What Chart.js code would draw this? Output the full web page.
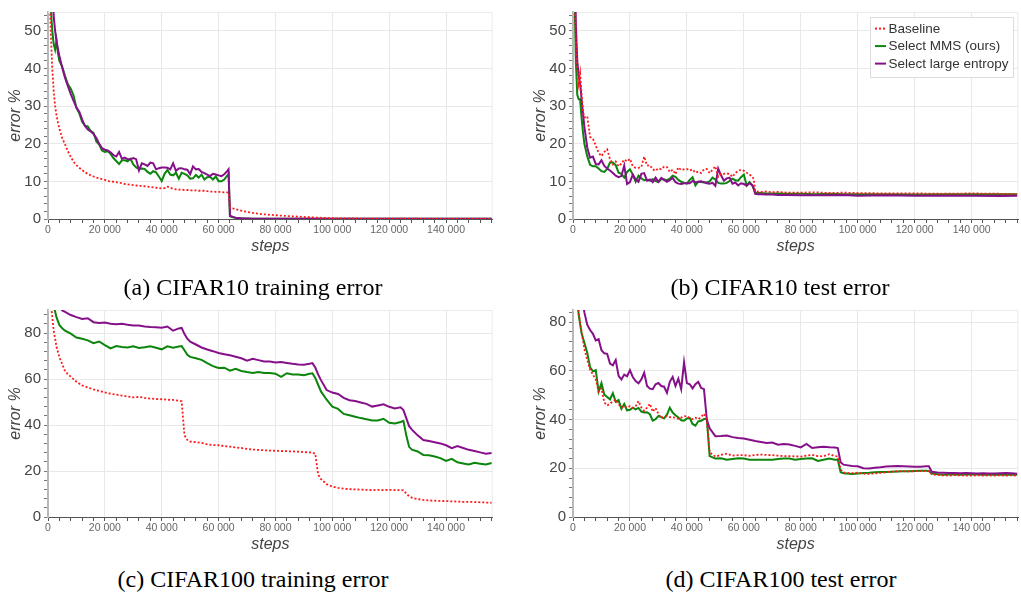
<!DOCTYPE html>
<html>
<head>
<meta charset="utf-8">
<script src="https://cdn.jsdelivr.net/npm/chart.js@4.4.1/dist/chart.umd.min.js"></script>
<style>
  html, body { margin: 0; padding: 0; background: #fff; }
  body { width: 1021px; height: 594px; position: relative; overflow: hidden; }
  canvas { position: absolute; }
  .cap { position: absolute; width: 500px; text-align: center; font-family: 'Liberation Serif', 'Times New Roman', serif; font-size: 24px; line-height: 24px; color: #000; white-space: nowrap; }
</style>
</head>
<body>
<canvas id="cA" width="500" height="258" style="left:0px;top:0px;"></canvas>
<canvas id="cB" width="496" height="258" style="left:525px;top:0px;"></canvas>
<canvas id="cC" width="500" height="258" style="left:0px;top:298px;"></canvas>
<canvas id="cD" width="496" height="258" style="left:525px;top:298px;"></canvas>
<div class="cap" style="left:3px;top:275px;">(a) CIFAR10 training error</div>
<div class="cap" style="left:530px;top:275px;">(b) CIFAR10 test error</div>
<div class="cap" style="left:3px;top:567px;">(c) CIFAR100 training error</div>
<div class="cap" style="left:531px;top:567px;">(d) CIFAR100 test error</div>
<script>
// ---------------- DATA ----------------
const seriesLabels = ['Baseline', 'Select MMS (ours)', 'Select large entropy'];
const xLabelSteps = [0, 20000, 40000, 60000, 80000, 100000, 120000, 140000];

const stepsC10 = [
  500, 1000, 1500, 2000, 2500, 3000, 3500, 4000, 5000, 6000, 7000, 8000, 9000, 10000,
  11000, 12000, 13000, 14000, 15000, 16000, 17000, 18000, 19000, 20000,
  21000, 22000, 23000, 24000, 25000, 26000, 27000, 28000, 29000, 30000,
  31000, 32000, 33000, 34000, 35000, 36000, 37000, 38000, 39000, 40000,
  41000, 42000, 43000, 44000, 45000, 46000, 47000, 48000, 49000, 50000,
  51000, 52000, 53000, 54000, 55000, 56000, 57000, 58000, 59000, 60000,
  61000, 62000, 63000,
  63500, 64000, 65000, 66000, 68000, 70000, 72000, 75000, 80000, 85000, 90000, 95000, 100000, 110000, 120000, 130000, 140000, 150000, 156000
];

const c10TrainBaseline = [
  62, 49, 40, 34, 30, 27.5, 25.6, 24, 21.5, 19.8, 18, 16.5, 15.2, 14.3,
  13.6, 13.0, 12.4, 12.0, 11.6, 11.3, 11.0, 10.8, 10.6, 10.4,
  10.1, 10.0, 9.9, 9.8, 9.6, 9.5, 9.3, 9.2, 9.1, 9.0,
  8.9, 8.8, 8.8, 8.7, 8.6, 8.5, 8.4, 8.3, 8.2, 8.1,
  8.2, 8.6, 8.3, 8.0, 7.9, 7.8, 7.8, 7.7, 7.7, 7.6,
  7.6, 7.6, 7.5, 7.5, 7.5, 7.4, 7.3, 7.3, 7.2, 7.2,
  7.2, 7.1, 7.1,
  7.0, 3.0, 2.8, 2.6, 2.2, 1.9, 1.6, 1.3, 1.0, 0.75, 0.55, 0.35, 0.2, 0.12, 0.08, 0.06, 0.05, 0.05, 0.05
];
const c10TrainMMS = [
  68, 56, 50, 46.5, 45, 47.5, 44, 42, 40.5, 38, 35.8, 34.6, 32.8, 29.5,
  28.1, 25.8, 24.8, 24.6, 23.4, 22.9, 20.6, 19.8, 18.2, 17.8,
  18.0, 17.3, 16.2, 15.4, 14.6, 15.6, 15.6, 15.3, 16.0, 14.5,
  13.7, 13.3, 13.4, 13.3, 12.5, 12.0, 12.7, 12.4, 11.3, 10.1,
  12.0, 13.0, 11.8, 11.6, 12.3, 10.7, 12.3, 12.0, 11.6, 10.7,
  10.8, 11.7, 11.0, 11.8, 10.5, 11.1, 11.2, 10.5, 11.3, 10.0,
  10.0, 10.5, 11.5,
  11.9, 0.7, 0.45, 0.3, 0.15, 0.1, 0.08, 0.05, 0.05, 0.04, 0.04, 0.04, 0.04, 0.04, 0.04, 0.04, 0.04, 0.04, 0.04
];
const c10TrainEntropy = [
  85, 72, 62, 54, 50, 47.2, 45.2, 43.3, 40.2, 37.5, 35.3, 33.2, 31.4, 29.6,
  28.5, 26.5, 24.7, 23.8, 23.3, 22.6, 21.5, 20.0, 18.8, 18.4,
  18.2, 17.7, 17.0, 16.6, 17.8, 16.0, 16.3, 15.9, 15.9, 16.2,
  15.9, 12.9, 14.8, 14.5, 14.1, 15.0, 14.8, 13.2, 13.5, 13.7,
  13.7, 13.6, 13.2, 14.8, 12.8, 13.4, 13.5, 13.2, 13.1, 11.9,
  14.0, 13.2, 13.3, 12.5, 12.2, 11.8, 11.4, 12.0, 11.8, 11.6,
  11.4, 11.9, 12.7,
  13.2, 0.9, 0.55, 0.35, 0.18, 0.1, 0.08, 0.05, 0.05, 0.05, 0.05, 0.05, 0.05, 0.05, 0.05, 0.05, 0.05, 0.05, 0.05
];

const c10TestBaseline = [
  62, 48, 40, 36, 38.7, 33, 28.5, 27, 27.3, 21.8, 21.3, 19.5, 17.6, 16.7,
  17.8, 18.5, 15.9, 14.5, 15.3, 14.0, 14.7, 15.8, 15.3, 16.0,
  14.0, 13.6, 13.6, 13.8, 16.6, 14.2, 14.3, 13.2, 12.8, 13.5,
  13.2, 13.9, 13.8, 12.5, 13.1, 11.9, 13.7, 13.0, 13.2, 13.3,
  12.9, 13.2, 12.3, 12.6, 12.2, 13.2, 13.3, 12.2, 13.1, 14.0,
  11.2, 12.0, 12.0, 12.1, 12.0, 11.2, 12.2, 12.8, 13.1, 12.8,
  12.3, 11.8, 11.3,
  10.5, 7.4, 7.3, 7.2, 7.3, 7.1, 7.2, 7.0, 7.0, 7.1, 6.9, 7.0, 6.9, 6.8, 6.8, 6.7, 6.8, 6.7, 6.7
];
const c10TestMMS = [
  62, 42, 33, 31.8, 31.8, 27, 23, 20, 16.7, 14.4, 14.0, 14.0, 13.4, 12.7,
  12.5, 13.3, 15.0, 15.0, 14.3, 12.3, 12.0, 11.0, 12.5, 13.2,
  11.8, 9.9, 11.5, 10.8, 10.3, 10.4, 10.2, 10.6, 10.1, 9.8,
  10.6, 10.5, 10.3, 10.7, 11.5, 11.2, 10.4, 9.9, 9.6, 9.4,
  10.4, 11.1, 8.9, 9.9, 9.8, 9.7, 9.7, 10.0, 11.0, 10.5,
  9.6, 9.4, 9.4, 9.6, 10.1, 10.7, 10.3, 10.2, 11.1, 11.8,
  8.9, 9.8, 8.9,
  8.0, 7.0, 6.9, 6.9, 6.8, 6.8, 6.8, 6.7, 6.7, 6.6, 6.7, 6.6, 6.6, 6.6, 6.5, 6.6, 6.6, 6.6, 6.6
];
const c10TestEntropy = [
  75, 52, 42, 38, 36, 32, 28.2, 24.5, 19, 16.3, 16.6, 14.6, 14.5, 15.6,
  14.1, 13.4, 12.9, 12.2, 11.5, 11.1, 11.4, 14.2, 9.3, 9.8,
  11.8, 10.5, 9.9, 12.0, 12.2, 10.2, 10.5, 9.8, 11.0, 9.9,
  10.9, 10.4, 9.9, 10.3, 10.9, 9.8, 9.4, 9.3, 9.5, 9.5,
  9.5, 10.1, 9.7, 9.9, 10.0, 9.8, 9.5, 9.4, 9.6, 8.8,
  13.4, 11.6, 10.2, 10.8, 11.0, 9.4, 9.7, 8.9, 9.5, 9.3,
  8.9, 9.5, 9.0,
  8.0, 6.7, 6.6, 6.6, 6.5, 6.5, 6.4, 6.4, 6.3, 6.3, 6.3, 6.4, 6.2, 6.3, 6.2, 6.2, 6.2, 6.1, 6.2
];

const stepsC100Train = [
  1000, 2000, 3000, 4000, 5000, 6000,
  8000, 10000, 12000, 14000, 16000, 18000, 20000, 22000, 24000, 26000,
  28000, 30000, 32000, 34000, 36000, 38000, 40000, 42000, 44000, 46000,
  47000, 48000, 49000, 50000,
  52000, 54000, 56000, 58000, 60000, 62000, 64000, 66000, 68000, 70000,
  72000, 74000, 76000, 78000, 80000, 82000, 84000, 86000, 88000, 90000, 92000,
  93000, 94000, 95000, 96000,
  98000, 100000, 102000, 104000, 106000, 108000, 110000, 112000, 114000, 116000, 118000, 120000, 122000, 124000,
  125000, 126000, 127000,
  128000, 130000, 132000, 134000, 136000, 138000, 140000, 142000, 144000, 146000, 148000, 150000, 152000, 154000, 156000
];
const c100TrainBaseline = [
  93, 81, 74, 69.5, 66.5, 63.3,
  61.0, 58.8, 57.2, 56.3, 55.5, 54.8, 54.2, 53.6, 53.2, 52.8,
  52.4, 52.0, 52.2, 51.8, 51.5, 51.3, 51.2, 51.0, 50.9, 50.6,
  50.3, 35.5, 33.5, 32.8,
  32.5, 32.2, 31.6, 31.3, 31.2, 30.8, 30.6, 30.2, 30.0, 29.6,
  29.3, 29.2, 29.0, 28.9, 28.8, 28.7, 28.6, 28.5, 28.4, 28.2, 28.1,
  28.0, 27.5, 18.5, 16.5,
  14.3, 13.2, 12.7, 12.3, 12.1, 12.0, 11.9, 11.8, 11.7, 11.8, 11.7, 11.8, 11.7, 11.7,
  11.6, 10.2, 9.0,
  8.4, 7.8, 7.4, 7.2, 7.1, 7.0, 6.9, 6.8, 6.7, 6.6, 6.6, 6.5, 6.4, 6.3, 6.2
];
const c100TrainMMS = [
  100, 92, 86.8, 83.5, 82.0, 81.0,
  79.7, 78.0, 77.5, 76.8, 75.6, 76.3, 74.7, 73.3, 74.3, 73.9,
  73.7, 74.2, 73.5, 73.8, 74.2, 73.6, 72.9, 74.2, 73.6, 74.1,
  74.3, 72.5, 70.5, 69.6,
  69.0, 68.3, 66.9, 65.6, 64.8, 64.9, 63.6, 64.4, 63.5, 63.0,
  62.6, 63.0, 62.6, 62.6, 62.3, 60.9, 62.5, 62.0, 62.0, 61.6, 62.3,
  62.5, 60.5, 57.5, 54.6,
  51.0, 48.0, 47.0, 44.8, 44.2, 43.6, 43.0, 42.5, 42.0, 42.0, 42.7, 41.0, 40.7, 41.3,
  41.8, 35.5, 30.5,
  29.3, 28.5, 27.0, 26.8, 26.3, 25.6, 24.4, 25.3, 23.8, 23.3, 22.8, 23.6, 23.2, 22.8, 23.5
];
const c100TrainEntropy = [
  102, 98, 95, 92, 89.8, 89.2,
  87.8, 86.9, 86.1, 86.4, 84.7, 84.3, 84.6, 84.0, 83.8, 84.0,
  83.6, 83.3, 83.3, 82.8, 82.6, 82.5, 82.3, 82.8, 81.0, 82.0,
  82.2, 79.5, 77.5, 76.2,
  75.0, 73.7, 72.8, 72.1, 71.3, 70.8, 70.3, 69.7, 69.0, 68.0,
  68.8, 68.2, 67.6, 67.6, 67.2, 67.4, 67.0, 66.6, 66.3, 66.2, 66.6,
  66.9, 65.0, 62.0, 59.5,
  55.2, 54.1, 53.5, 51.8, 50.8, 50.4, 49.8, 49.2, 48.0, 48.5, 49.0, 47.9, 47.2, 47.7,
  46.5, 43.0, 39.5,
  38.0, 35.5, 33.5, 33.0, 32.5, 32.0, 31.2, 29.9, 30.8, 30.0, 29.2, 28.7, 28.1, 27.5, 27.8
];

const stepsC100Test = [
  1000, 2000, 3000, 4000, 5000, 6000, 7000, 8000, 9000, 10000,
  11000, 12000, 13000, 14000, 15000, 16000, 17000, 18000, 19000, 20000,
  21000, 22000, 23000, 24000, 25000, 26000, 27000, 28000, 29000, 30000,
  31000, 32000, 33000, 34000, 35000, 36000, 37000, 38000, 39000, 40000,
  41000, 42000, 43000, 44000, 45000, 46000, 47000,
  48000, 50000, 52000, 54000, 56000, 58000, 60000, 62000, 64000, 66000, 68000, 70000,
  72000, 74000, 76000, 78000, 80000, 82000, 84000, 86000, 88000, 90000, 92000,
  93000, 94000, 95000,
  96000, 98000, 100000, 102000, 104000, 106000, 108000, 110000, 112000, 114000, 116000, 118000, 120000, 122000, 124000,
  125000, 126000,
  128000, 130000, 132000, 134000, 136000, 138000, 140000, 142000, 144000, 146000, 148000, 150000, 152000, 154000, 156000
];
const c100TestBaseline = [
  95, 84, 76, 69, 64.5, 60.5, 58.5, 56.5, 51.5, 52.8,
  47.0, 45.8, 46.5, 47.5, 48.2, 46.3, 44.9, 45.5, 45.0, 45.5,
  44.8, 45.5, 47.6, 45.0, 43.6, 44.9, 46.5, 43.2, 44.8, 42.3,
  40.6, 41.3, 41.3, 41.0, 40.9, 40.8, 40.3, 40.8, 41.3, 41.5,
  40.6, 40.2, 40.8, 40.2, 41.0, 42.4, 40.0,
  26.5, 24.8, 25.5, 26.0, 25.2, 25.4, 25.4, 25.1, 25.5, 25.6, 25.5, 25.4,
  25.2, 25.0, 25.0, 24.9, 24.8, 25.2, 25.5, 25.0, 24.9, 25.8, 25.0,
  24.9, 19.5, 18.3,
  18.1, 18.0, 18.1, 17.8, 17.7, 17.9, 18.1, 18.4, 18.6, 18.8, 18.8, 18.7, 18.8, 18.8, 18.8,
  18.8, 17.5,
  17.3, 17.1, 17.0, 17.2, 17.1, 17.0, 17.0, 17.1, 17.0, 17.1, 17.0, 17.1, 17.0, 17.1, 17.0
];
const c100TestMMS = [
  95, 83, 75.5, 71.5, 67.5, 61.5, 59.8, 60.3, 51.5, 55.0,
  50.3, 49.3, 48.3, 50.8, 47.3, 48.0, 44.4, 46.4, 43.8, 44.0,
  44.9, 44.2, 44.8, 43.3, 42.9, 43.0, 42.2, 39.6, 40.2, 41.5,
  41.0, 40.5, 42.0, 44.9, 42.9, 41.8, 40.9, 39.7, 39.5, 40.5,
  40.6, 38.2, 37.5, 39.3, 39.5, 40.2, 40.3,
  25.0, 24.0, 24.1, 23.5, 23.8, 24.1, 24.0, 23.5, 23.5, 23.5, 23.5, 23.5,
  23.8, 24.0, 24.0, 23.5, 23.8, 24.0, 24.1, 23.0, 23.5, 24.0, 23.5,
  23.5, 18.4, 18.0,
  17.9, 17.7, 17.9, 18.1, 18.2, 18.4, 18.5, 18.5, 18.6, 18.7, 18.8, 18.8, 18.9, 19.0, 19.0,
  18.9, 17.8,
  17.6, 17.4, 17.5, 17.4, 17.3, 17.4, 17.5, 17.4, 17.3, 17.4, 17.4, 17.5, 17.4, 17.4, 17.4
];
const c100TestEntropy = [
  110, 100, 92, 84, 79, 76.8, 75.2, 72.5, 73.0, 68.5,
  67.2, 67.0, 63.0, 62.3, 64.5, 58.0, 56.5, 58.5, 57.8, 60.3,
  57.5, 55.8, 54.9, 56.5, 59.2, 53.8, 52.7, 52.5, 54.5, 55.0,
  53.8, 53.5, 51.0, 55.5, 57.5, 53.8, 56.8, 52.5, 63.5, 55.0,
  54.5, 52.8, 54.5, 55.5, 53.0, 52.5, 40.0,
  36.4, 33.2, 33.3, 33.5, 32.8, 32.4, 32.2, 31.7, 31.2, 30.8, 30.4, 30.6,
  29.7, 30.0, 29.8, 29.2, 28.6, 30.0, 28.3, 28.6, 28.8, 28.6, 28.5,
  28.3, 22.5, 21.5,
  21.3, 20.9, 20.8, 20.0, 19.9, 20.2, 20.4, 20.7, 20.8, 20.9, 20.8, 20.7, 20.6, 20.6, 20.8,
  20.8, 18.6,
  18.3, 18.2, 18.1, 18.1, 18.0, 18.1, 18.0, 17.9, 18.0, 17.9, 17.9, 18.0, 18.1, 18.0, 17.8
];

// ---------------- RENDERING ----------------
const FONT = "'Liberation Sans', Arial, Helvetica, sans-serif";
const X_MAX = 156400;
const X_MINOR = 4000;
const fmt = v => String(v).replace(/\B(?=(\d{3})+(?!\d))/g, ' ');

const framePlugin = {
  id: 'frame',
  beforeDatasetsDraw(chart) {
    const {ctx, chartArea: a} = chart;
    ctx.save();
    ctx.strokeStyle = '#ebebeb';
    ctx.lineWidth = 1;
    ctx.beginPath();
    ctx.moveTo(a.left, a.top + 0.5);
    ctx.lineTo(a.right - 0.5, a.top + 0.5);
    ctx.lineTo(a.right - 0.5, a.bottom);
    ctx.stroke();
    ctx.restore();
  }
};

const legendPlugin = {
  id: 'boxLegend',
  afterDraw(chart) {
    const {ctx, chartArea: a} = chart;
    const w = 143, h = 60;
    const x0 = a.right - 5.3 - w, y0 = a.top + 5;
    ctx.save();
    ctx.fillStyle = '#fff';
    ctx.fillRect(x0, y0, w, h);
    ctx.strokeStyle = '#dddddd';
    ctx.lineWidth = 1;
    ctx.strokeRect(Math.round(x0) + 0.5, Math.round(y0) + 0.5, w, h);
    chart.data.datasets.forEach((d, i) => {
      const y = y0 + 11.6 + i * 17.5;
      ctx.strokeStyle = d.borderColor;
      ctx.lineWidth = 2;
      ctx.setLineDash(d.borderDash || []);
      ctx.beginPath();
      ctx.moveTo(x0 + 5, y);
      ctx.lineTo(x0 + 16, y);
      ctx.stroke();
      ctx.setLineDash([]);
      ctx.fillStyle = '#333';
      ctx.font = '13.5px ' + FONT;
      ctx.textBaseline = 'middle';
      ctx.textAlign = 'left';
      ctx.fillText(d.label, x0 + 18.5, y + 0.5);
    });
    ctx.restore();
  }
};

function makeChart(id, steps, base, mms, ent, cfg) {
  [base, mms, ent].forEach((arr, k) => {
    if (arr.length !== steps.length) console.error(id + ' series ' + k + ' length ' + arr.length + ' vs ' + steps.length);
  });
  const ds = (label, vals, color, width, dash, order) => ({
    label,
    data: steps.map((s, i) => ({x: s, y: vals[i]})),
    borderColor: color, backgroundColor: color,
    borderWidth: width, borderDash: dash,
    pointRadius: 0, pointHoverRadius: 0, tension: 0, fill: false, order
  });
  const plugins = [framePlugin];
  if (cfg.legend) plugins.push(legendPlugin);
  return new Chart(document.getElementById(id), {
    type: 'line',
    data: {
      datasets: [
        ds(seriesLabels[0], base, '#ff1a1a', 1.8, [2, 2], 0),
        ds(seriesLabels[1], mms, '#0c850c', 2, [], 2),
        ds(seriesLabels[2], ent, '#86108a', 2, [], 1)
      ]
    },
    options: {
      responsive: false,
      animation: false,
      devicePixelRatio: 1,
      events: [],
      layout: {padding: {left: 0, right: cfg.padRight, top: cfg.padTop, bottom: 0}},
      plugins: {legend: {display: false}, tooltip: {enabled: false}},
      scales: {
        x: {
          type: 'linear', min: 0, max: X_MAX,
          afterBuildTicks: s => {
            const t = [];
            for (let v = 0; v <= X_MAX; v += X_MINOR) t.push({value: v});
            s.ticks = t;
          },
          afterFit: s => { s.height = 39; },
          ticks: {
            autoSkip: false, maxRotation: 0, minRotation: 0, padding: 1,
            color: '#666', font: {family: FONT, size: 10.5},
            callback: v => (xLabelSteps.includes(v) ? fmt(v) : '')
          },
          grid: {
            color: c => (c.tick && xLabelSteps.includes(c.tick.value) ? '#e8e8e8' : 'rgba(0,0,0,0)'),
            tickColor: '#555', tickLength: 4, lineWidth: 1
          },
          border: {color: '#555', width: 1},
          title: {display: true, text: 'steps', color: '#444',
                  font: {family: FONT, size: 16, style: 'italic'}, padding: {top: 0, bottom: 2}}
        },
        y: {
          type: 'linear', min: 0, max: cfg.yMax,
          afterBuildTicks: s => {
            const t = [];
            for (let v = 0; v <= cfg.yMax; v += cfg.yMinor) t.push({value: v});
            s.ticks = t;
          },
          afterFit: s => { s.width = 48; },
          ticks: {
            autoSkip: false, padding: 3, color: '#444', font: {family: FONT, size: 15},
            callback: v => (v % cfg.yMajor === 0 ? String(v) : '')
          },
          grid: {
            color: c => (c.tick && c.tick.value % cfg.yMajor === 0 ? '#e8e8e8' : 'rgba(0,0,0,0)'),
            tickColor: '#777', tickLength: 4, lineWidth: 1
          },
          border: {color: '#b8b8b8', width: 2},
          title: {display: true, text: 'error %', color: '#444',
                  font: {family: FONT, size: 16, style: 'italic'}, padding: {top: 6.4, bottom: 0}}
        }
      }
    },
    plugins
  });
}

makeChart('cA', stepsC10, c10TrainBaseline, c10TrainMMS, c10TrainEntropy,
  {yMax: 55, yMinor: 2, yMajor: 10, padRight: 7.3, padTop: 6.7});
makeChart('cB', stepsC10, c10TestBaseline, c10TestMMS, c10TestEntropy,
  {yMax: 55, yMinor: 2, yMajor: 10, padRight: 2.7, padTop: 6.7, legend: true});
makeChart('cC', stepsC100Train, c100TrainBaseline, c100TrainMMS, c100TrainEntropy,
  {yMax: 90, yMinor: 4, yMajor: 20, padRight: 7.3, padTop: 7.3});
makeChart('cD', stepsC100Test, c100TestBaseline, c100TestMMS, c100TestEntropy,
  {yMax: 85, yMinor: 4, yMajor: 20, padRight: 2.7, padTop: 7.3});
</script>
</body>
</html>
